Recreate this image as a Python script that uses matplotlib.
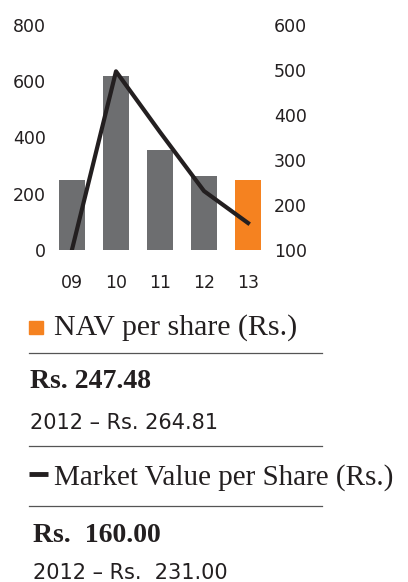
import matplotlib
matplotlib.use("Agg")
import matplotlib.pyplot as plt

years = ["09", "10", "11", "12", "13"]
nav_per_share = [250, 618, 354, 264.81, 247.48]
market_value = [101, 497, 362, 231, 160]
left_ticks = [0, 200, 400, 600, 800]
right_ticks = [100, 200, 300, 400, 500, 600]

W, H = 408, 582
textCol = "#231f20"
grey = "#6d6e70"
orange = "#f58220"

fig = plt.figure(figsize=(W / 100, H / 100), dpi=100)


def px(x, y):
    # pixel position measured from top-left -> figure fraction
    return x / W, 1 - y / H


ax = fig.add_axes([50 / W, 1 - 250 / H, 215 / W, 225 / H])
barColors = [grey] * (len(years) - 1) + [orange]
ax.bar(range(len(years)), nav_per_share, width=0.57, color=barColors)
ax.set_xlim(-0.5, 4.386)
ax.set_ylim(0, 800)
ax.set_yticks(left_ticks)
ax.set_xticks(range(len(years)))
ax.set_xticklabels(years)
for s in ax.spines.values():
    s.set_visible(False)
ax.tick_params(length=0, labelsize=12.5, labelcolor=textCol)
ax.tick_params(axis="y", pad=3)
ax.tick_params(axis="x", pad=17)

ax2 = ax.twinx()
ax2.plot(range(len(years)), market_value, color=textCol, lw=3)
ax2.set_ylim(100, 600)
ax2.set_yticks(right_ticks)
for s in ax2.spines.values():
    s.set_visible(False)
ax2.tick_params(length=0, labelsize=12.5, labelcolor=textCol, pad=6.5)

serif = "Liberation Serif"
sans = "DejaVu Sans"

# legend block
fig.patches.append(plt.Rectangle(px(29, 334), 14 / W, 13 / H, transform=fig.transFigure,
                                 color=orange))
fig.text(*px(54, 335), "NAV per share (Rs.)", family=serif, fontsize=21.5,
         color=textCol, va="baseline")
fig.add_artist(plt.Line2D([29 / W, 322 / W], [1 - 353 / H] * 2, color="#555555", lw=0.9))
fig.text(*px(30, 388), "Rs. 247.48", family=serif, fontsize=20, weight="bold",
         color=textCol, va="baseline")
fig.text(*px(30, 429), "2012 \u2013 Rs. 264.81", family=sans, fontsize=15,
         color=textCol, va="baseline")
fig.add_artist(plt.Line2D([29 / W, 322 / W], [1 - 446 / H] * 2, color="#555555", lw=0.9))

fig.add_artist(plt.Line2D([29 / W, 48 / W], [1 - 474 / H] * 2, color=textCol, lw=3.5,
                          solid_capstyle="butt"))
fig.text(*px(54, 485), "Market Value per Share (Rs.)", family=serif, fontsize=21,
         color=textCol, va="baseline")
fig.add_artist(plt.Line2D([29 / W, 322 / W], [1 - 506 / H] * 2, color="#555555", lw=0.9))
fig.text(*px(33, 542), "Rs.  160.00", family=serif, fontsize=20, weight="bold",
         color=textCol, va="baseline")
fig.text(*px(33, 579), "2012 \u2013 Rs.  231.00", family=sans, fontsize=15,
         color=textCol, va="baseline")

fig.savefig("out.png", dpi=100)
